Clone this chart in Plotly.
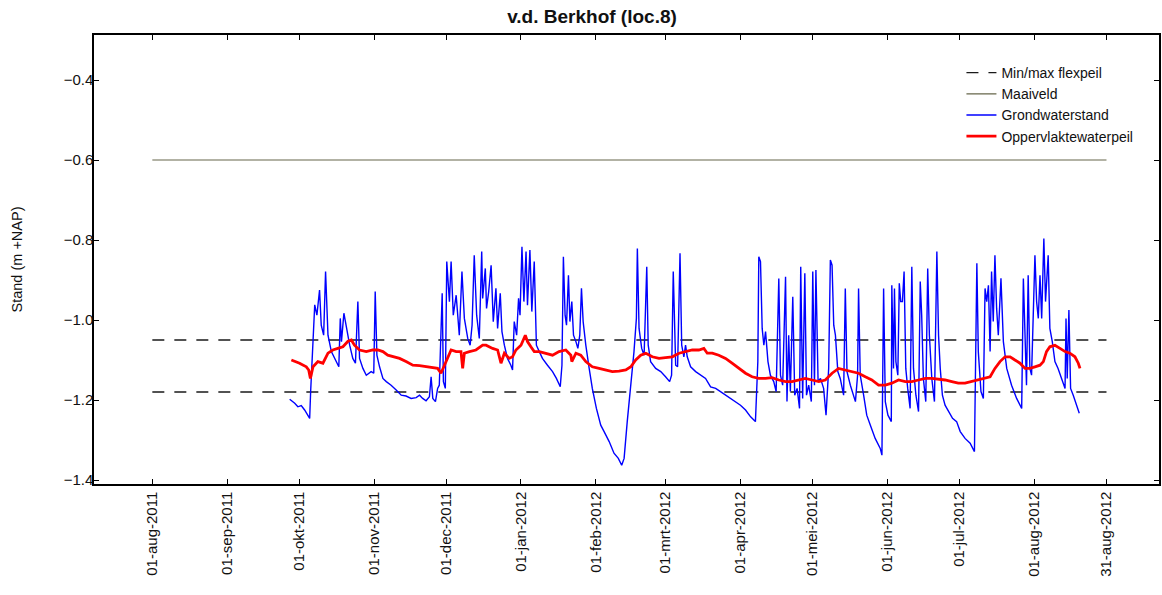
import pandas as pd
import plotly.graph_objects as go

# ---------------- data ----------------
start_date = "2011-08-01"

# Grondwaterstand (days since start_date, m +NAP)
gw_days = [57.0, 59.1, 60.4, 61.8, 63.2, 65.3, 65.7, 66.7, 67.4, 68.3,
           69.4, 70.1, 71.1, 71.9, 72.9, 74.3, 76.3, 77.4, 78.0, 78.5,
           79.5, 80.5, 81.9, 83.2, 84.3, 85.3, 86.0, 87.4, 88.8, 90.8,
           91.9, 92.5, 93.2, 94.3, 95.7, 97.1, 99.1, 101.2, 103.3, 105.3,
           107.4, 109.5, 110.9, 112.2, 113.6, 115.0, 115.7, 116.4, 117.5, 118.4,
           119.1, 120.3, 120.8, 121.6, 122.2, 123.3, 124.0, 124.9, 126.1, 127.4,
           128.5, 129.5, 130.9, 131.9, 132.7, 133.6, 134.6, 135.7, 136.7, 137.1,
           138.2, 138.7, 139.6, 140.6, 141.5, 142.6, 143.3, 144.4, 145.1, 146.1,
           147.4, 148.8, 149.5, 150.2, 151.2, 152.0, 152.6, 153.4, 154.2, 155.1,
           155.7, 156.7, 157.5, 158.5, 159.4, 160.6, 161.9, 164.0, 166.1, 167.7,
           169.3, 170.0, 170.6, 171.3, 171.9, 172.7, 173.3, 174.1, 174.8, 175.8,
           176.6, 177.4, 178.1, 178.8, 179.9, 181.3, 182.6, 184.3, 186.1, 187.5,
           189.6, 191.6, 193.4, 194.8, 195.8, 197.1, 198.6, 199.9, 200.9, 201.3,
           202.0, 203.1, 204.1, 205.2, 205.8, 206.8, 208.9, 211.0, 213.0, 214.7,
           215.5, 216.2, 217.2, 218.0, 219.0, 219.7, 220.6, 221.3, 222.0, 223.4,
           225.5, 227.5, 229.6, 231.7, 233.8, 235.8, 237.9, 240.0, 242.0, 244.1,
           246.2, 248.3, 250.3, 251.3, 251.7, 252.4, 253.1, 253.8, 254.5, 255.5,
           256.5, 257.9, 258.9, 260.0, 260.7, 261.6, 262.8, 263.4, 264.1, 264.8,
           265.8, 266.6, 267.6, 268.6, 269.1, 269.9, 270.8, 271.5, 272.4, 273.5,
           274.1, 274.8, 275.4, 276.3, 277.3, 278.6, 279.6, 280.7, 281.4, 282.1,
           282.8, 283.5, 284.5, 285.5, 286.9, 287.6, 288.3, 289.7, 291.8, 292.7,
           293.1, 293.8, 295.2, 296.5, 298.0, 300.0, 302.1, 302.8,
           303.5, 304.2, 305.3, 306.7, 306.9, 307.6, 308.0, 308.6, 309.4, 310.0, 310.6, 311.3,
           312.0, 312.7, 313.5, 314.5, 315.2, 315.9, 316.9, 318.0, 318.7, 319.3,
           320.0, 321.0, 321.8, 322.5, 323.5, 324.6, 325.6, 326.3, 327.0, 327.9,
           329.0, 330.4, 332.1, 333.8, 335.3, 337.3, 339.4, 341.2, 341.7, 342.2,
           342.8, 343.9, 344.9, 345.6, 346.3, 347.0, 347.7, 348.3, 349.0, 349.7,
           350.4, 351.1, 352.2, 353.2, 354.6, 356.6, 358.7, 360.8, 361.5, 362.2,
           362.8, 363.5, 364.2, 364.9, 366.3, 367.0, 367.7, 368.4, 369.1, 370.0,
           370.7, 371.8, 372.5, 373.5, 374.6, 375.9, 377.3, 378.8, 379.2, 379.7,
           380.4, 381.1, 382.2, 383.6, 384.7]
gw_level = [-1.198, -1.208, -1.217, -1.214, -1.225, -1.246, -1.180, -1.038, -0.962, -0.988,
            -0.925, -1.013, -1.038, -0.879, -1.038, -1.079, -1.104, -1.117, -0.996, -1.054,
            -0.983, -1.017, -1.063, -1.096, -1.108, -0.954, -1.096, -1.121, -1.138, -1.129,
            -1.133, -0.929, -1.088, -1.117, -1.146, -1.154, -1.163, -1.175, -1.188, -1.190,
            -1.196, -1.194, -1.188, -1.196, -1.202, -1.192, -1.142, -1.196, -1.204, -1.171,
            -1.163, -0.933, -1.154, -1.171, -0.854, -0.954, -0.854, -0.988, -0.938, -1.038,
            -0.879, -0.996, -1.046, -1.063, -1.013, -0.838, -0.988, -1.046, -0.829, -0.946,
            -0.871, -0.971, -0.929, -0.863, -1.004, -0.921, -1.021, -0.933, -1.029, -1.063,
            -1.096, -1.113, -1.125, -1.004, -1.038, -0.946, -0.988, -0.817, -0.954, -0.829,
            -0.963, -0.825, -0.979, -0.854, -1.063, -1.079, -1.096, -1.113, -1.129, -1.146,
            -1.167, -1.113, -0.842, -0.988, -1.013, -0.888, -1.004, -0.954, -1.038, -1.054,
            -1.071, -1.038, -0.921, -1.004, -1.063, -1.121, -1.171, -1.221, -1.263, -1.279,
            -1.304, -1.333, -1.346, -1.363, -1.346, -1.254, -1.163, -1.079, -0.996, -0.821,
            -1.021, -1.071, -1.088, -0.867, -1.063, -1.104, -1.121, -1.129, -1.142, -1.154,
            -1.138, -0.879, -1.113, -1.117, -0.833, -1.063, -1.092, -1.063, -1.092, -1.117,
            -1.129, -1.138, -1.146, -1.167, -1.171, -1.179, -1.188, -1.196, -1.204, -1.213,
            -1.225, -1.242, -1.254, -1.104, -0.842, -0.854, -1.021, -1.063, -1.029, -1.104,
            -1.138, -1.154, -1.179, -0.896, -1.138, -1.163, -0.892, -1.204, -1.038, -1.179,
            -0.942, -1.188, -1.171, -1.221, -0.867, -1.196, -0.883, -1.188, -1.163, -1.204,
            -0.879, -1.163, -0.875, -1.154, -1.146, -1.171, -1.238, -1.121, -0.850, -0.863,
            -1.013, -1.038, -1.129, -1.146, -1.188, -0.921, -1.129, -1.163, -1.204, -1.138,
            -0.921, -1.138, -1.188, -1.238, -1.263, -1.296, -1.321, -1.338,
            -0.921, -1.204, -1.238, -1.254, -0.913, -1.121, -0.921, -1.104, -1.138, -0.908, -0.954, -0.954,
            -0.879, -1.121, -1.171, -1.221, -0.867, -1.121, -1.188, -1.229, -0.904, -0.988,
            -1.146, -1.204, -0.871, -1.038, -1.146, -1.204, -0.829, -1.038, -1.121, -1.188,
            -1.213, -1.229, -1.246, -1.254, -1.279, -1.296, -1.308, -1.329, -1.038, -0.858,
            -1.079, -1.179, -1.196, -0.921, -0.954, -0.913, -1.079, -0.879, -1.004, -0.838,
            -0.971, -1.038, -0.896, -1.054, -1.121, -1.163, -1.196, -1.221, -0.896, -1.038,
            -1.163, -0.888, -1.121, -1.138, -0.838, -0.954, -0.996, -0.888, -0.996, -0.796,
            -0.954, -0.838, -1.021, -1.054, -1.104, -1.121, -1.146, -1.171, -0.996, -1.146,
            -0.975, -1.171, -1.188, -1.213, -1.233]

# Oppervlaktewaterpeil (days since start_date, m +NAP)
ow_days = [57.7, 61.1, 63.9, 64.9, 65.6, 66.7, 68.7, 70.8, 72.9, 74.9,
           77.0, 79.1, 81.2, 82.6, 83.9, 86.0, 88.8, 91.5, 93.6, 95.7,
           97.7, 99.8, 102.6, 105.3, 108.1, 110.9, 113.6, 116.4, 118.4, 119.8,
           121.2, 122.6, 124.0, 126.1, 128.1, 128.8, 129.5, 131.6, 134.3, 137.1,
           138.5, 141.2, 143.3, 144.7, 146.1, 148.1, 149.5, 150.9, 153.0, 154.8,
           155.7, 157.1, 158.5, 160.6, 163.3, 166.1, 168.8, 171.6, 173.7, 174.1,
           175.8, 177.8, 179.9, 182.6, 185.4, 188.2, 190.9, 193.7, 196.5, 198.6,
           200.6, 202.7, 204.8, 207.5, 210.3, 213.0, 215.8, 218.6, 221.3, 224.1,
           226.8, 228.9, 230.3, 232.4, 235.1, 237.9, 240.6, 243.4, 246.2, 248.9,
           251.7, 254.5, 257.2, 260.0, 262.8, 265.5, 268.3, 271.0, 273.8, 276.6,
           279.3, 282.1, 284.8, 287.6, 290.3, 293.1, 295.9, 298.6, 301.4, 304.2,
           306.9, 309.7, 312.5, 315.2, 318.0, 320.8, 323.5, 326.3, 329.0, 331.8,
           334.5, 337.3, 340.1, 342.8, 345.6, 347.7, 349.7, 351.8, 353.9, 356.0,
           358.0, 360.1, 362.2, 364.2, 366.3, 368.4, 369.8, 371.1, 372.5, 374.6,
           376.7, 378.8, 380.8, 382.9, 384.3, 385.0]
ow_level = [-1.100, -1.108, -1.117, -1.125, -1.146, -1.117, -1.104, -1.108, -1.083, -1.075,
            -1.071, -1.067, -1.053, -1.050, -1.063, -1.075, -1.079, -1.075, -1.075, -1.079,
            -1.088, -1.092, -1.096, -1.104, -1.113, -1.114, -1.117, -1.119, -1.121, -1.133,
            -1.113, -1.096, -1.075, -1.079, -1.079, -1.121, -1.083, -1.079, -1.075, -1.063,
            -1.063, -1.071, -1.075, -1.108, -1.083, -1.096, -1.092, -1.075, -1.063, -1.038,
            -1.054, -1.067, -1.079, -1.079, -1.083, -1.088, -1.079, -1.075, -1.088, -1.104,
            -1.083, -1.088, -1.104, -1.117, -1.121, -1.125, -1.129, -1.128, -1.125, -1.117,
            -1.100, -1.088, -1.083, -1.092, -1.096, -1.094, -1.092, -1.083, -1.079, -1.075,
            -1.075, -1.071, -1.083, -1.083, -1.088, -1.096, -1.108, -1.121, -1.133, -1.142,
            -1.146, -1.146, -1.144, -1.150, -1.154, -1.154, -1.150, -1.146, -1.150, -1.154,
            -1.150, -1.133, -1.121, -1.125, -1.129, -1.133, -1.142, -1.150, -1.163, -1.163,
            -1.158, -1.150, -1.154, -1.154, -1.150, -1.146, -1.146, -1.148, -1.150, -1.154,
            -1.158, -1.158, -1.154, -1.150, -1.146, -1.142, -1.121, -1.104, -1.092, -1.092,
            -1.100, -1.108, -1.121, -1.121, -1.117, -1.113, -1.104, -1.079, -1.067, -1.063,
            -1.071, -1.079, -1.083, -1.092, -1.108, -1.121]

# Reference levels
ref_period = ["2011-08-01", "2012-08-31"]
maaiveld = [-0.60, -0.60]
flexpeil_max = [-1.05, -1.05]
flexpeil_min = [-1.18, -1.18]

# Axis ticks
tick_dates = ["2011-08-01", "2011-09-01", "2011-10-01", "2011-11-01", "2011-12-01",
              "2012-01-01", "2012-02-01", "2012-03-01", "2012-04-01", "2012-05-01",
              "2012-06-01", "2012-07-01", "2012-08-01", "2012-08-31"]
tick_labels = ["01-aug-2011", "01-sep-2011", "01-okt-2011", "01-nov-2011", "01-dec-2011",
               "01-jan-2012", "01-feb-2012", "01-mrt-2012", "01-apr-2012", "01-mei-2012",
               "01-jun-2012", "01-jul-2012", "01-aug-2012", "31-aug-2012"]
y_ticks = [-1.4, -1.2, -1.0, -0.8, -0.6, -0.4]
x_range = ["2011-07-07 19:00", "2012-09-21 19:00"]
y_range = [-1.4100, -0.2875]

assert len(gw_days) == len(gw_level)
assert len(ow_days) == len(ow_level)

base = pd.Timestamp(start_date)
gw_x = base + pd.to_timedelta(gw_days, unit="D")
ow_x = base + pd.to_timedelta(ow_days, unit="D")

FONT = "Liberation Sans, Arial, sans-serif"

fig = go.Figure()
fig.add_trace(go.Scatter(x=ref_period, y=flexpeil_max, mode="lines", name="Min/max flexpeil",
                         line=dict(color="#1a1a1a", width=1.4, dash="12px,10px"),
                         legendgroup="flex"))
fig.add_trace(go.Scatter(x=ref_period, y=flexpeil_min, mode="lines", name="Min/max flexpeil",
                         line=dict(color="#1a1a1a", width=1.4, dash="12px,10px"),
                         legendgroup="flex", showlegend=False))
fig.add_trace(go.Scatter(x=ref_period, y=maaiveld, mode="lines", name="Maaiveld",
                         line=dict(color="#66664a", width=1.2)))
fig.add_trace(go.Scatter(x=gw_x, y=gw_level, mode="lines", name="Grondwaterstand",
                         line=dict(color="#0000ff", width=1.4)))
fig.add_trace(go.Scatter(x=ow_x, y=ow_level, mode="lines", name="Oppervlaktewaterpeil",
                         line=dict(color="#ff0000", width=2.8)))

axis_common = dict(showline=True, linecolor="black", linewidth=1.5, mirror="allticks",
                   ticks="inside", ticklen=5, tickcolor="black", tickwidth=1,
                   showgrid=False, zeroline=False,
                   tickfont=dict(family=FONT, size=15, color="#111"))

fig.update_xaxes(type="date", range=x_range, tickvals=tick_dates, ticktext=tick_labels,
                 tickangle=-90, **axis_common)
fig.update_yaxes(range=y_range, tickvals=y_ticks, tickformat=".1f", ticklabelstandoff=-4,
                 title=dict(text="Stand (m +NAP)", font=dict(family=FONT, size=14.5, color="#111"),
                            standoff=38),
                 **axis_common)

fig.update_layout(
    width=1162, height=595,
    margin=dict(l=94, r=1, t=35, b=111),
    paper_bgcolor="white", plot_bgcolor="white",
    font=dict(family=FONT, size=12, color="#111"),
    title=dict(text="<b>v.d. Berkhof (loc.8)</b>", x=592 / 1162, xanchor="center",
               y=1 - 16 / 595, yanchor="middle",
               font=dict(family=FONT, size=19, color="#111")),
    legend=dict(x=0.8145, y=0.951, xanchor="left", yanchor="top",
                bgcolor="rgba(0,0,0,0)", borderwidth=0,
                font=dict(family=FONT, size=14, color="#111"),
                tracegroupgap=0),
    showlegend=True,
)

fig.write_html("out.html")
